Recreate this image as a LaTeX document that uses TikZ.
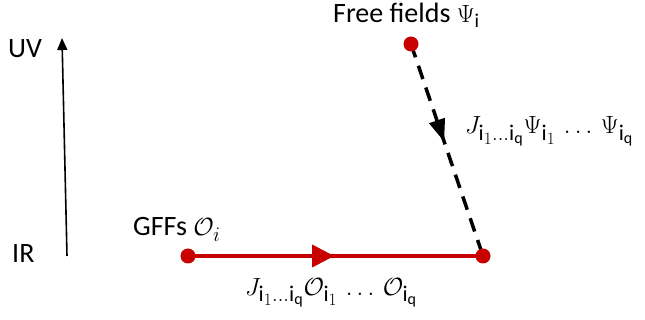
\documentclass[tikz,border=0pt]{standalone}
\usepackage{fontspec}
\setmainfont{Carlito}
\usetikzlibrary{arrows.meta,decorations.markings}
\definecolor{dred}{RGB}{200,0,0}
\begin{document}
\begin{tikzpicture}[x=1pt,y=-1pt,
  dot/.style={circle,fill=dred,inner sep=0pt,minimum size=15pt},
  lbl/.style={font=\fontsize{28}{32}\selectfont,inner sep=0pt,anchor=base west},
  mlbl/.style={font=\fontsize{32}{36}\selectfont,inner sep=0pt,anchor=base west},
  redline/.style={dred,line width=4pt},
  dashline/.style={black,line width=3.5pt,dash pattern=on 14pt off 9pt},
  uvarrow/.style={-{Triangle[length=12pt,width=10pt]},line width=1.6pt}]
\useasboundingbox (0,0) rectangle (645,320);
\coordinate (pf) at (411,44);
\coordinate (pg) at (188,256);
\coordinate (pc) at (483,256);
\coordinate (ir) at (67,256);
\coordinate (uv) at (62,38);
% scale arrow
\draw[uvarrow] (ir) -- (uv);
\node[lbl] (uvt) at (8,58) {UV};
\node[lbl] (irt) at (12,263) {IR};
% flows
\draw[redline, postaction={decorate,decoration={markings,
  mark=at position 0.458 with {\fill[dred] (11pt,0) -- (-11pt,11.5pt) -- (-11pt,-11.5pt) -- cycle;}}}]
  (pg) -- (pc);
\draw[dashline, postaction={decorate,decoration={markings,
  mark=at position 0.41 with {\fill[black,solid] (11pt,0) -- (-11pt,8.5pt) -- (-11pt,-8.5pt) -- cycle;}}}]
  (pf) -- (pc);
\node[dot] (f) at (pf) {};
\node[dot] (g) at (pg) {};
\node[dot] (c) at (pc) {};
% labels
\node[lbl] (fft) at (333,23) {Free fields $\Psi_{\mathrm{i}}$};
\node[lbl] (gft) at (133,236) {GFFs $\mathcal{O}_i$};
\node[mlbl] (jp) at (465,134) {$J_{\mathrm{i}_1\ldots\mathrm{i}_\mathrm{q}}\Psi_{\mathrm{i}_1}\,\ldots\,\Psi_{\mathrm{i}_\mathrm{q}}$};
\node[mlbl] (jo) at (245,295) {$J_{\mathrm{i}_1\ldots\mathrm{i}_\mathrm{q}}\mathcal{O}_{\mathrm{i}_1}\,\ldots\,\mathcal{O}_{\mathrm{i}_\mathrm{q}}$};
\end{tikzpicture}
\end{document}
